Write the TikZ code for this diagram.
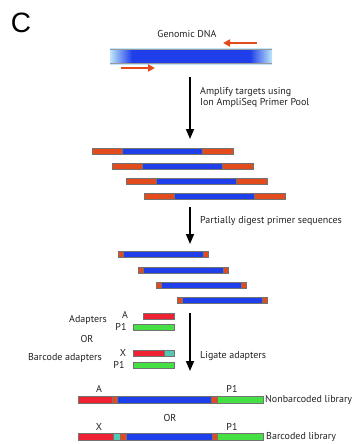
\documentclass[tikz,border=0pt]{standalone}
\usepackage{fontspec}
\setmainfont{PT Sans}
\newfontfamily\bigCfont{Liberation Sans}
\usetikzlibrary{arrows.meta}
\definecolor{primer}{HTML}{E34A1C}
\definecolor{dnablue}{HTML}{1F3FEA}
\definecolor{adred}{HTML}{EE2233}
\definecolor{adgreen}{HTML}{44E044}
\definecolor{barcode}{HTML}{55C8B4}
\definecolor{lightblue}{HTML}{BFE6FA}
\definecolor{txt}{HTML}{222222}
\tikzset{
  seg/.style={draw=black!55, line width=0.4pt, minimum height=6pt, inner sep=0pt, outer sep=0pt, anchor=west},
  fseg/.style={seg, minimum height=7pt},
  lbl/.style={font=\fontsize{10}{12}\selectfont, text=txt, inner sep=0pt},
  flow/.style={line width=1.6pt, -{Triangle[width=8pt,length=10pt]}},
  primarrow/.style={draw=primer, line width=2.6pt, -{Triangle[width=7pt,length=7pt]}},
  dnapart/.style={inner sep=0pt, outer sep=0pt, minimum height=14pt, anchor=west},
  dnaedge/.style={draw=black!40, line width=0.4pt}
}
\begin{document}
\begin{tikzpicture}[x=1pt,y=-1pt]
\useasboundingbox (0,0) rectangle (353,444);
% panel letter
\node[font=\bigCfont\fontsize{28}{30}\selectfont, inner sep=0pt] (letter) at (21,23) {C};
% genomic DNA
\node[lbl] (gtxt) at (187,34) {Genomic DNA};
\node[dnapart, left color=lightblue, right color=dnablue, minimum width=22pt] (gdl) at (110,56) {};
\node[dnapart, fill=dnablue, minimum width=118pt] (gdm) at (gdl.east) {};
\node[dnapart, left color=dnablue, right color=lightblue, minimum width=22pt] (gdr) at (gdm.east) {};
\draw[lightblue, line width=1.2pt] ([yshift=0.6pt]gdl.north west) -- ([yshift=0.6pt]gdr.north east);
\draw[lightblue, line width=1.6pt] ([yshift=-0.8pt]gdl.south west) -- ([yshift=-0.8pt]gdr.south east);
\draw[dnaedge] (gdl.north west) -- (gdr.north east);
\draw[dnaedge] (gdl.south west) -- (gdr.south east);
\coordinate (rs) at (257,43); \coordinate (re) at (223,43);
\draw[primarrow] (rs) -- (re);
\coordinate (fs) at (121,68); \coordinate (fe) at (155,68);
\draw[primarrow] (fs) -- (fe);
% arrow 1
\coordinate (a1s) at (190,77); \coordinate (a1e) at (190,139);
\draw[flow] (a1s) -- (a1e);
\node[lbl, anchor=west] (t1a) at (200,92) {Amplify targets using};
\node[lbl, anchor=west] (t1b) at (200,103) {Ion AmpliSeq Primer Pool};
% amplicons
\node[seg, fill=primer, minimum width=30.5pt] (p1a) at (92,151) {};
\node[seg, fill=dnablue, minimum width=80pt] (p1b) at (p1a.east) {};
\node[seg, fill=primer, minimum width=30.5pt] (p1c) at (p1b.east) {};
\node[seg, fill=primer, minimum width=30.5pt] (p2a) at (112,166) {};
\node[seg, fill=dnablue, minimum width=80pt] (p2b) at (p2a.east) {};
\node[seg, fill=primer, minimum width=30.5pt] (p2c) at (p2b.east) {};
\node[seg, fill=primer, minimum width=30.5pt] (p3a) at (126,181) {};
\node[seg, fill=dnablue, minimum width=80pt] (p3b) at (p3a.east) {};
\node[seg, fill=primer, minimum width=30.5pt] (p3c) at (p3b.east) {};
\node[seg, fill=primer, minimum width=30.5pt] (p4a) at (144,196) {};
\node[seg, fill=dnablue, minimum width=80pt] (p4b) at (p4a.east) {};
\node[seg, fill=primer, minimum width=30.5pt] (p4c) at (p4b.east) {};
% arrow 2
\coordinate (a2s) at (190,207); \coordinate (a2e) at (190,244);
\draw[flow] (a2s) -- (a2e);
\node[lbl, anchor=west] (t2) at (200,221) {Partially digest primer sequences};
% digested
\node[seg, fill=primer, minimum width=5pt] (d1a) at (118,254) {};
\node[seg, fill=dnablue, minimum width=80pt] (d1b) at (d1a.east) {};
\node[seg, fill=primer, minimum width=5pt] (d1c) at (d1b.east) {};
\node[seg, fill=primer, minimum width=5pt] (d2a) at (138,270) {};
\node[seg, fill=dnablue, minimum width=80pt] (d2b) at (d2a.east) {};
\node[seg, fill=primer, minimum width=5pt] (d2c) at (d2b.east) {};
\node[seg, fill=primer, minimum width=5pt] (d3a) at (156,285) {};
\node[seg, fill=dnablue, minimum width=80pt] (d3b) at (d3a.east) {};
\node[seg, fill=primer, minimum width=5pt] (d3c) at (d3b.east) {};
\node[seg, fill=primer, minimum width=5pt] (d4a) at (177,300) {};
\node[seg, fill=dnablue, minimum width=80pt] (d4b) at (d4a.east) {};
\node[seg, fill=primer, minimum width=5pt] (d4c) at (d4b.east) {};
% adapters
\node[lbl, anchor=east] (adtxt) at (107,320) {Adapters};
\node[lbl] (adA) at (125,315) {A};
\node[lbl] (adP) at (121,327) {P1};
\node[seg, fill=adred, minimum width=31pt] (ada) at (143,316) {};
\node[seg, fill=adgreen, minimum width=41pt] (adp) at (133,327) {};
\node[lbl] (or1) at (87,339) {OR};
\node[lbl, anchor=east] (bctxt) at (102,358) {Barcode adapters};
\node[lbl] (bcX) at (123,353) {X};
\node[lbl] (bcP) at (119,365) {P1};
\node[seg, fill=adred, minimum width=31pt] (bcx) at (133,353) {};
\node[seg, fill=barcode, minimum width=10pt] (bcb) at (bcx.east) {};
\node[seg, fill=adgreen, minimum width=41pt] (bcp) at (133,365.5) {};
% arrow 3
\coordinate (a3s) at (190,313); \coordinate (a3e) at (190,371);
\draw[flow] (a3s) -- (a3e);
\node[lbl, anchor=west] (t3) at (200,356) {Ligate adapters};
% final libraries
\node[lbl] (nA) at (99,389) {A};
\node[lbl] (nP) at (232,389) {P1};
\node[fseg, fill=adred, minimum width=34pt] (n1) at (78,400) {};
\node[fseg, fill=primer, minimum width=5pt] (n2) at (n1.east) {};
\node[fseg, fill=dnablue, minimum width=94pt] (n3) at (n2.east) {};
\node[fseg, fill=primer, minimum width=6pt] (n4) at (n3.east) {};
\node[fseg, fill=adgreen, minimum width=46pt] (n5) at (n4.east) {};
\node[lbl, anchor=west] (ntxt) at (265,400) {Nonbarcoded library};
\node[lbl] (or2) at (170,418) {OR};
\node[lbl] (bX) at (99,427) {X};
\node[lbl] (bP) at (232,427) {P1};
\node[fseg, fill=adred, minimum width=35pt] (b1) at (78,437) {};
\node[fseg, fill=barcode, minimum width=7pt] (b2) at (b1.east) {};
\node[fseg, fill=primer, minimum width=6pt] (b3) at (b2.east) {};
\node[fseg, fill=dnablue, minimum width=86pt] (b4) at (b3.east) {};
\node[fseg, fill=primer, minimum width=5pt] (b5) at (b4.east) {};
\node[fseg, fill=adgreen, minimum width=46pt] (b6) at (b5.east) {};
\node[lbl, anchor=west] (btxt) at (266,437) {Barcoded library};
\end{tikzpicture}
\end{document}
